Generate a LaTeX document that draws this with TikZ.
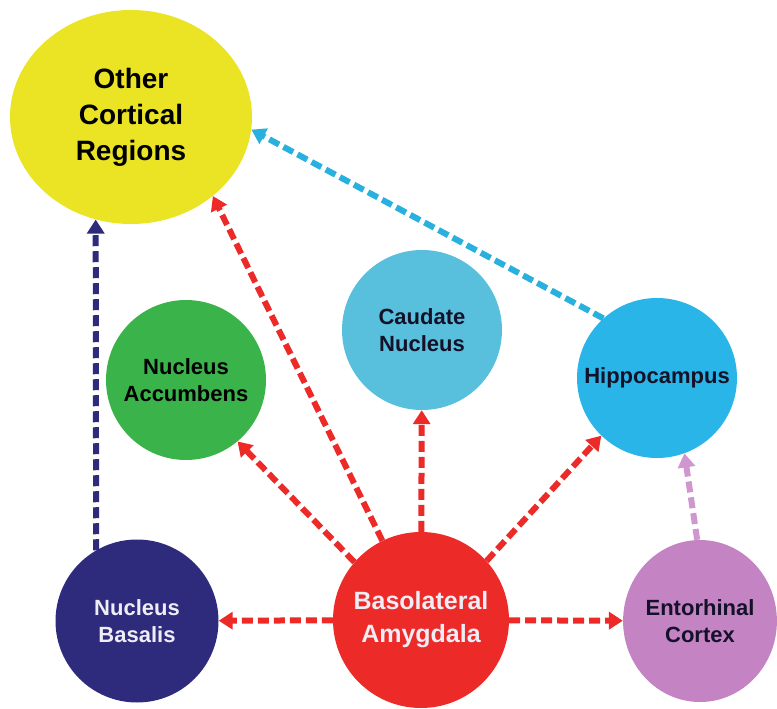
\documentclass[tikz,border=0pt]{standalone}
\usepackage{fontspec}
\setmainfont{Liberation Sans}
\usetikzlibrary{arrows.meta,shapes.geometric}

\definecolor{cyellow}{RGB}{234,228,36}
\definecolor{cgreen}{RGB}{58,180,74}
\definecolor{ccaudate}{RGB}{88,191,220}
\definecolor{chippo}{RGB}{42,181,232}
\definecolor{cnavy}{RGB}{46,42,124}
\definecolor{cred}{RGB}{236,42,40}
\definecolor{cpurple}{RGB}{196,132,196}
\definecolor{carrowblue}{RGB}{40,176,222}
\definecolor{carrowpurple}{RGB}{208,150,208}
\definecolor{darktext}{RGB}{20,18,40}
\definecolor{lighttext}{RGB}{238,236,245}

\begin{document}
\begin{tikzpicture}[x=1pt,y=-1pt,
  region/.style={circle, inner sep=0pt, align=center, minimum size=160pt,
    font=\bfseries\fontsize{22}{27}\selectfont, text=darktext},
  link/.style={line width=6pt, dash pattern=on 11pt off 5pt,
    -{Triangle[width=17pt,length=14pt]}}]
\useasboundingbox (0,0) rectangle (777,709);

% regions
\node[region, ellipse, fill=cyellow, minimum width=242pt, minimum height=214pt,
  text=black, font=\bfseries\fontsize{28}{36}\selectfont] (ocr) at (131,117) {Other\\Cortical\\Regions};
\node[region, fill=ccaudate] (caud) at (422,330) {Caudate\\Nucleus};
\node[region, fill=cgreen, text=black] (acc) at (186,380) {Nucleus\\Accumbens};
\node[region, fill=chippo] (hip) at (657,378) {Hippocampus};
\node[region, fill=cnavy, minimum size=163pt, text=lighttext] (nb) at (137,621) {Nucleus\\Basalis};
\node[region, fill=cred, minimum size=176pt, text=lighttext,
  font=\bfseries\fontsize{25}{33}\selectfont] (bla) at (421,620) {Basolateral\\Amygdala};
\node[region, ellipse, fill=cpurple, minimum width=148pt, minimum height=162pt] (ec) at (700,621) {Entorhinal\\Cortex};

% projections
\draw[link, cred] (bla) -- (nb);
\draw[link, cred] (bla) -- (ec);
\draw[link, cred] (bla) -- (caud);
\draw[link, cred] (bla.139.5) -- (acc.-50);
\draw[link, cred] (bla.116.8) -- (ocr.-44.6);
\draw[link, cred] (bla.42.7) -- (hip.-134);
\draw[link, cnavy] (nb.120.4) -- (ocr.-109.6);
\draw[link, carrowblue] (hip.132.5) -- (ocr.-6);
\draw[link, carrowpurple] (ec.92) -- (hip.-70);
\end{tikzpicture}
\end{document}
